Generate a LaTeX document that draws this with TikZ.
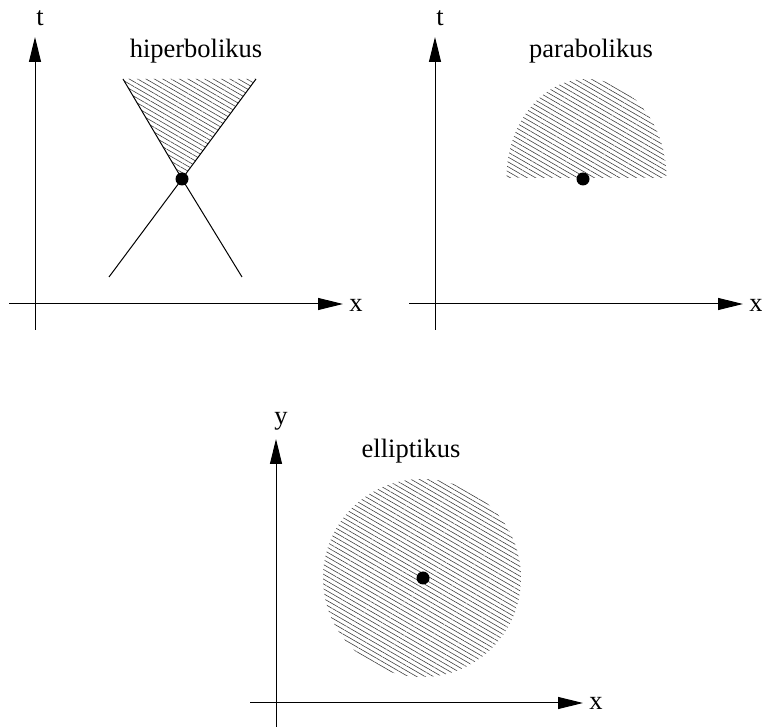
\documentclass[tikz,border=0pt]{standalone}
\usepackage{fontspec}
\setmainfont{Liberation Serif}
\usetikzlibrary{arrows.meta,patterns.meta}

\begin{document}
\begin{tikzpicture}[
  x=1pt, y=1pt,
  axis/.style={line width=1pt, -{Triangle[length=25pt, width=12pt]}},
  edge/.style={line width=1pt},
  lbl/.style={anchor=base, inner sep=0pt, font=\fontsize{26.5}{32}\selectfont},
  hatch/.style={pattern={Lines[angle=-30, distance=4.2pt, line width=0.6pt]},
                pattern color=black!75},
  dot/.style={circle, fill, inner sep=0pt, minimum size=13pt}]
\useasboundingbox (0,0) rectangle (762,727);

% hiperbolikus
\coordinate (h0) at (35,397);
\coordinate (ht) at (35,690);
\coordinate (hx0) at (9,423);
\coordinate (hx1) at (343,423);
\coordinate (tl) at (123,648);
\coordinate (tr) at (256,648);
\coordinate (apex) at (182,548);
\coordinate (bl) at (109,450);
\coordinate (br) at (242,450);
\fill[hatch] (tl) -- (tr) -- (apex) -- cycle;
\draw[edge] (tl) -- (apex) -- (br);
\draw[edge] (tr) -- (apex) -- (bl);
\node[dot] (hd) at (apex) {};
\draw[axis] (h0) -- (ht);
\draw[axis] (hx0) -- (hx1);
\node[lbl] (hlt) at (40,701) {t};
\node[lbl] (hlx) at (356,415) {x};
\node[lbl] (hname) at (196,669) {hiperbolikus};

% parabolikus
\coordinate (p0) at (435,397);
\coordinate (pt) at (435,690);
\coordinate (px0) at (409,423);
\coordinate (px1) at (743,423);
\fill[hatch] (506.5,549) arc[start angle=180, end angle=0, x radius=80, y radius=99] -- cycle;
\node[dot] (pd) at (583,548) {};
\draw[axis] (p0) -- (pt);
\draw[axis] (px0) -- (px1);
\node[lbl] (plt) at (440,701) {t};
\node[lbl] (plx) at (756,415) {x};
\node[lbl] (pname) at (591,669) {parabolikus};

% elliptikus
\coordinate (e0) at (276,0);
\coordinate (et) at (276,288);
\coordinate (ex0) at (250,24);
\coordinate (ex1) at (583,24);
\fill[hatch] (422,149) circle[radius=99];
\node[dot] (ed) at (423,149) {};
\draw[axis] (e0) -- (et);
\draw[axis] (ex0) -- (ex1);
\node[lbl] (ely) at (281,302) {y};
\node[lbl] (elx) at (596,17) {x};
\node[lbl] (ename) at (411,269) {elliptikus};
\end{tikzpicture}
\end{document}
